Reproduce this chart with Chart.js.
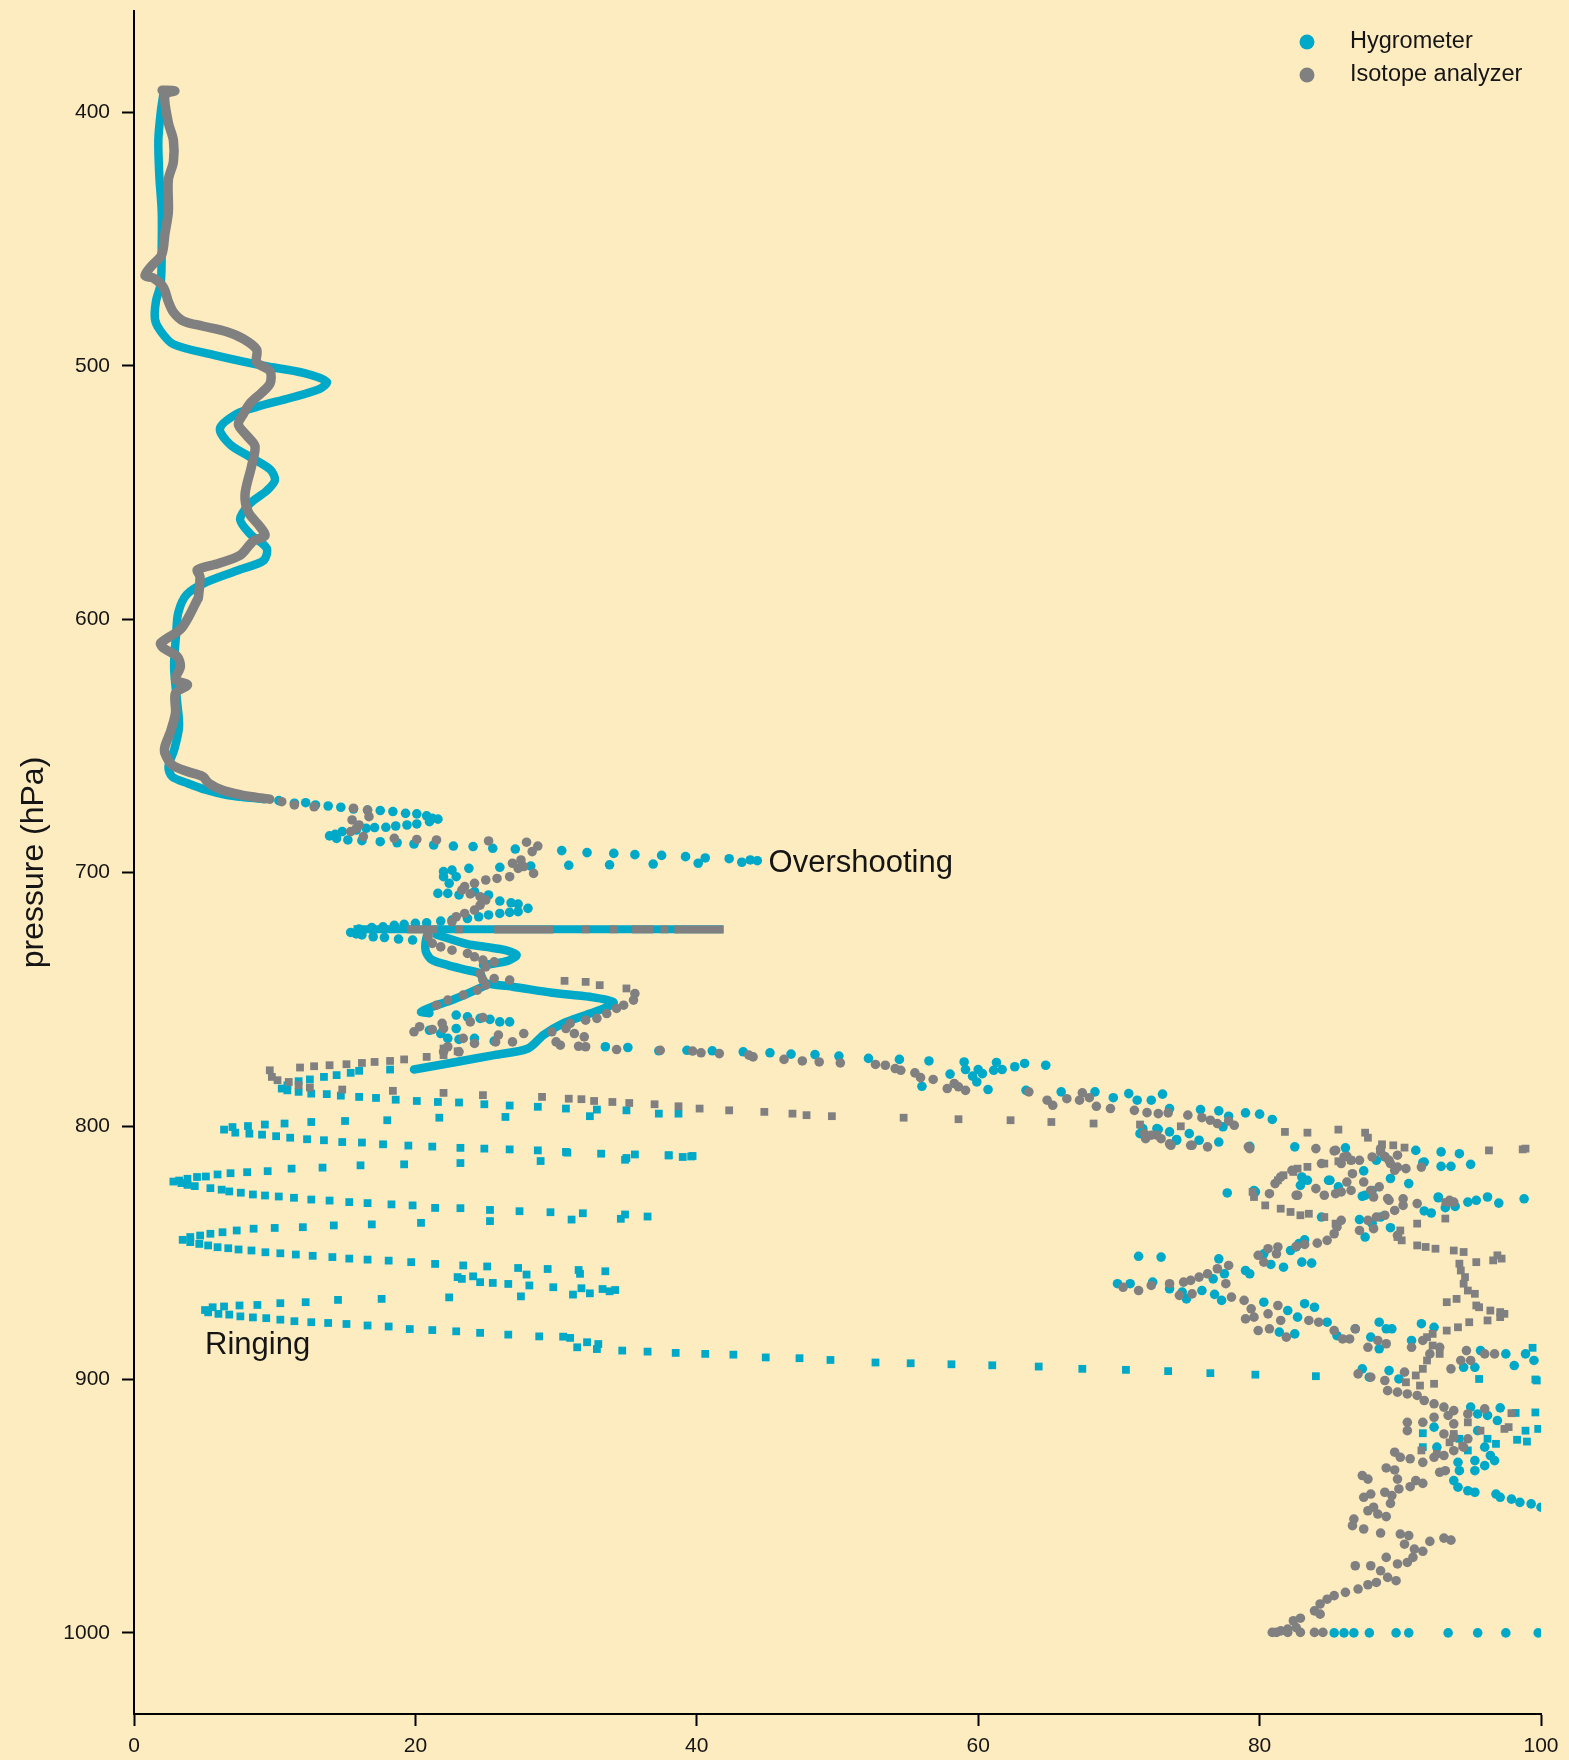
<!DOCTYPE html>
<html>
<head>
<meta charset="utf-8">
<script src="https://cdn.jsdelivr.net/npm/chart.js@4.4.0/dist/chart.umd.min.js"></script>
<style>
  html, body { margin: 0; padding: 0; background: #FEECC1; }
  #wrap { width: 1569px; height: 1760px; }
</style>
</head>
<body>
<div id="wrap"><canvas id="chart" width="1569" height="1760"></canvas></div>
<script>
// Values are [mixing ratio, pressure hPa]
const xTicks = [0, 20, 40, 60, 80, 100];
const yTicks = [400, 500, 600, 700, 800, 900, 1000];

// Hygrometer – dense continuous parts
const hygroTrace = [[2.09,392.7],[1.9,400],[1.73,411],[1.8,425],[1.97,439],[1.97,453],[1.9,467.5],[1.56,474.6],[1.49,481.6],[1.85,486],[2.8,491.5],[5.64,495.7],[9.2,500],[12.04,502.8],[13.7,506.3],[13.2,509.1],[11.09,512.7],[8.72,516.2],[7.3,519],[6.11,524.7],[6.82,531],[8.25,536],[9.67,540.9],[10.02,545.1],[9.43,549.3],[8.25,554.3],[7.54,560.6],[8.25,566.3],[9.43,572],[9.2,576.9],[7.54,580.4],[5.17,585.3],[3.74,590.3],[3.15,597.3],[3.0,605.5],[2.85,618.6],[3.05,631.8],[3.2,642.3],[2.85,651.6],[2.45,658.2],[2.71,662.1],[3.8,664.7],[5.16,667.4],[6.52,669.3],[7.88,670.3],[9.24,671.0]];
const hygroStreak = [[15.6,722.3],[41.9,722.3]];
const hygroLoopA = [[21.0,722.6],[20.8,725.3],[20.7,729.3],[20.8,731.9],[21.2,734.5],[22.3,736.5],[23.7,738.5],[24.6,739.8],[24.8,742.4],[25.0,743.7],[26.9,745.0],[29.7,747.4],[32.4,749.0],[34.1,751.4],[32.4,755.6],[30.5,759.5],[29.1,764.1],[28.0,769.4],[25.6,772.0],[22.9,774.7],[19.9,777.7]];
const hygroLoopB = [[21.5,724.5],[23.7,728.2],[25.0,729.3],[26.4,730.6],[27.2,732.5],[26.7,734.5],[25.9,735.6],[24.8,736.5]];
const hygroLoopC = [[24.8,745.0],[23.7,747.7],[22.6,750.3],[21.2,752.9],[20.4,754.9],[21.0,755.5]];

const hygroCircles = [[10.3,671.6],[11.4,672.6],[12.2,672.4],[12.9,673.3],[13.8,673.7],[14.7,674.2],[15.6,674.9],[16.6,675.3],[17.5,675.5],[18.4,675.9],[19.3,676.6],[20.1,676.8],[20.8,677.6],[21.2,678.6],[21.6,678.9],[21.0,679.9],[20.1,680.8],[19.4,681.2],[18.6,681.6],[17.9,682.1],[17.1,682.2],[16.5,682.5],[15.8,683.2],[14.8,683.8],[14.3,684.9],[13.9,685.5],[14.4,686.5],[15.2,687.1],[16.2,687.4],[17.5,687.8],[18.7,688.2],[19.9,688.7],[21.3,689.1],[22.7,689.5],[24.1,689.7],[25.5,690.4],[27.1,690.7],[30.4,691.3],[32.2,692.1],[34.1,692.4],[35.6,692.9],[37.5,693.2],[39.2,693.7],[40.6,694.2],[42.3,694.5],[43.2,695.9],[43.8,695],[44.3,695.3],[28.2,697.4],[30.9,697.1],[33.8,696.9],[36.9,696.6],[40.1,696.3],
  [22.0,699.6],[22.6,699],[22.0,701.6],[22.9,701.6],[22.4,704.2],[21.6,708.2],[22.3,708.2],[23.1,708.8],[23.8,698.3],[26.0,697.9],[24.2,707.5],[25.2,708.8],[26.0,711.2],[26.8,711.9],[27.3,712.4],[28.0,714.1],[27.3,715.4],[26.7,715.7],[26.0,716.1],[25.2,716.7],[24.5,717.4],[23.7,718.1],[22.6,718.7],[21.8,719.1],[20.8,719.8],[20.0,720.0],[19.2,720.4],[18.5,720.8],[17.7,721.4],[16.9,721.7],[16.0,722.3],[15.4,723.6],[15.8,724.2],[16.2,724.6],[17.0,725.3],[17.8,725.6],[18.8,726.2],[19.8,726.6],
  [22.9,756.2],[23.7,756.9],[24.6,757.5],[25.3,757.9],[26.0,758.9],[26.7,758.9],[21.0,762.2],[21.8,763.5],[22.9,761.5],[22.3,765.4],[23.1,765.8],[24.2,765.4],[25.6,766.5],[33.5,768.7],[35.1,769],[37.3,770.3],[39.3,770.1],[41.1,770.3],
  [43.3,770.7],[45.2,771.1],[46.7,771.6],[48.4,771.8],[50.1,772.4],[52.2,773.3],[54.4,773.7],[56.5,774.3],[59.0,774.7],[61.3,774.9],[63.3,775.3],[64.8,776],[59.1,777.7],[60.0,777.7],[60.3,779.3],[61.1,778],[61.7,777.7],[62.6,776.6],[58.0,779.5],[59.6,780.3],[59.9,782.6],[56.0,784.3],[60.7,785.6],[63.4,785.9],[65.9,786.5],[68.3,786.5],[69.6,788.8],[70.7,787.2],[71.3,789.8],[72.3,789.8],[73.1,787.4],[73.6,793.1],[75.8,793.5],[77.1,794.0],[77.8,796.1],[79.0,794.8],[80.0,795.3],[80.9,797.4],[77.4,800.3],[71.7,801],[72.8,801.3],[73.6,802.3],[74.1,805.6],[75.7,805.6],[77.1,806.3],[79.3,808],[82.5,808.2],[86.1,808.6],[88.3,813.5],[91.1,809.6],[92.9,810.2],[94.2,810.9],[95.0,815.1],[91.6,814.4],[92.9,815.9],[93.6,815.9],[77.7,826.4],[79.7,826],[83.0,820.1],[85.0,821.4],[90.6,822.7],[87.5,827.3],[92.7,828],[96.2,828],[98.8,828.7],
  [71.5,803],[72.7,801],[74.1,805.3],[75.0,803],[88.9,812.2],[91.7,814.2],[87.4,817.7],[89.3,820.7],[84.9,821.4],[82.9,823.4],[83.4,821.4],[85.6,824.0],[87.3,827.7],[88.0,825.4],[79.6,825.4],[84.4,835.9],[88.0,838.5],[88.6,835.9],[89.3,840.1],[87.1,836.9],[87.5,843.8],[92.7,828.3],[91.7,833.5],[92.2,834.3],[93.2,832.2],[93.9,831.7],[94.8,830],[95.4,829.3],[97.0,830.4],[82.2,849.1],[82.8,846.4],[83.2,844.9],[82.6,847.7],[80.3,850.4],[80.8,854.6],[81.7,855.7],[83.0,853.7],[83.7,854.1],[79.0,857],[79.3,858.3],[77.1,852.4],[77.5,858.3],[76.7,860.3],[75.9,864.9],[76.8,866.4],[77.3,868.8],[73.6,864.2],[74.5,865.5],[74.8,868.2],[72.4,861.6],[70.8,862.2],[69.9,862.2],[71.4,851.4],[73.0,851.7],[80.3,869.5],[82.0,872.8],[82.7,875.4],[83.2,870.1],[83.9,871.5],[81.4,881.3],[82.5,882],[84.8,877.4],[85.5,882.7],[86.8,880],[87.9,883.3],[88.5,877.4],[88.5,887.9],[89.0,880],[89.4,880],[90.8,884.6],[91.5,878.0],[92.4,879.4],[95.7,888.6],[97.5,889.9],[98.1,894.5],[98.9,889.9],[99.5,892.5],[94.5,895.2],[95.3,895.2],[87.3,895.8],[89.2,896.5],[89.9,899.8],[87.8,899.1],
  [95.0,910.9],[97.1,911.2],[95.5,913.6],[96.2,914.2],[96.9,916.2],[95.5,920.2],[96.0,926.7],[96.4,930],[96.7,932],[94.1,932.7],[94.2,936],[93.8,939.9],[94.1,942.5],[94.8,943.9],[95.3,944.5],[96.8,945.2],[97.1,946.5],[97.9,947.2],[98.5,948.5],[99.3,949.1],[100,950.4],[92.4,918.8],[92.6,926.7],[96.0,934],[95.3,936],[95.3,932],
  [85.3,1000],[86.0,1000],[86.7,1000],[87.8,1000],[89.7,1000],[90.6,1000],[93.4,1000],[95.5,1000],[97.5,1000],[99.8,1000]];

const hygroSquares = [[18.2,777.7],[16.0,778.2],[15.4,779],[14.4,779.9],[13.5,780.6],[12.5,781.6],[11.7,782.3],[10.9,783.9],[10.5,785.2],[10.9,785.9],[11.7,786.5],[12.6,787.2],[13.7,787.4],[14.7,788],[16.0,788.5],[17.2,788.9],[18.6,789.6],[20.1,790.1],[21.6,790.5],[23.1,790.7],[24.9,791.4],[26.7,791.9],[28.7,792.4],[30.7,793.1],[32.9,793.5],[35.0,793.8],[37.3,795.1],[38.7,795.1],[32.4,796.1],[26.4,796.4],[21.7,796.7],[18.0,797.7],[15.0,798],[12.6,798.4],[10.7,799.0],[9.3,799.4],[8.1,800],[7.0,800.4],[6.4,801.4],[7.2,802.6],[8.2,803],[9.1,803.4],[10.1,804.0],[11.1,804.6],[12.3,805.2],[13.5,805.6],[14.8,806.3],[16.2,806.5],[17.7,807.2],[19.5,807.7],[21.2,808.1],[23.2,808.6],[24.9,808.9],[26.7,809.2],[28.7,809.6],[30.7,810.2],[33.2,810.9],[35.0,812.6],[35.6,811.2],[38.0,811.5],[39.0,812.2],[39.7,811.8],
  [39.6,812],[38.0,811.6],[34.9,813.3],[30.8,810.5],[28.9,813.8],[23.2,814.6],[19.2,815.1],[16.1,815.5],[13.4,816.4],[11.2,816.8],[9.5,817.8],[8.04,818.2],[6.86,818.6],[5.94,819.1],[5.11,819.9],[4.48,820.1],[3.8,820.8],[3.21,821.5],[2.8,821.9],[3.37,822.5],[3.8,823.2],[4.32,823.7],[5.43,824.5],[6.23,825.1],[6.77,825.8],[7.59,826.3],[8.45,827],[9.31,827.4],[10.29,827.8],[11.37,828.3],[12.6,829],[13.9,829.4],[15.3,830],[16.6,830.4],[18.3,830.9],[19.8,831.3],[21.4,832.3],[23.2,832.4],[25.3,833.1],[27.4,833.6],[29.6,834],[31.9,834.4],[34.6,836.6],[34.9,834.9],[36.5,835.7],[31.1,836.9],[25.3,837.5],[20.4,838.2],[16.9,838.8],[14.2,839.2],[12.0,839.9],[10.0,840.2],[8.5,840.5],[7.3,841.2],[6.29,841.9],[5.43,842.5],[4.7,843.2],[4.0,843.8],[3.46,844.9],[4.0,845.8],[4.64,846.5],[5.27,847.1],[5.94,847.8],[6.7,848.2],[7.43,848.7],[8.35,849.1],[9.34,849.8],[10.4,850.2],[11.5,850.7],[12.7,851.2],[14.1,851.7],[15.3,852.3],[16.6,852.7],[18.1,853.1],[19.7,853.7],[21.4,854.4],[23.4,855],[25.1,855.4],[27.3,856],[29.4,856.4],[31.6,856.8],[33.5,857.3],[31.7,858.3],[27.9,858.6],[24.1,859.3],[23.0,859.6],[23.3,860.3],[24.6,861.6],[25.5,861.9],[26.6,862.3],[28.1,862.9],[29.8,863.6],[31.2,866.5],[31.8,864],[32.4,866],[33.3,864.3],[34.2,864.7],[33.8,865.2],[27.5,867.2],[22.4,867.6],[17.6,868.2],[14.5,868.6],[12.2,869.5],[10.4,869.9],[8.77,870.6],[7.5,870.8],[6.4,871.2],[5.59,871.5],[5.05,872.6],[5.27,873.5],[6.0,874.1],[6.77,874.4],[7.56,875.1],[8.45,875.5],[9.4,875.8],[10.4,876.4],[11.4,877],[12.6,877.4],[13.8,877.7],[15.1,878.1],[16.6,878.7],[18.1,879.1],[19.6,880.1],[21.2,880.5],[22.9,881],[24.6,881.6],[26.6,882.3],[28.8,883],[30.5,883.1],[31.0,883.6],[31.5,887.3],[32.2,885.3],[33.0,886],[32.9,888],[34.7,888.6],[36.5,889],[38.5,889.5],[40.6,889.9],[42.6,890.2],[44.9,891.3],[47.3,891.6],[49.5,892.3],[52.7,893.3],[55.2,893.6],[58.1,894],[61,894.4],[64.3,894.9],[67.4,895.8],[70.5,896.2],[73.5,896.7],[76.5,897.5],[79.7,898.1],[84.0,898.7],[95.6,899.8],[99.7,900.4],
  [98.2,913.2],[99.6,913],[98.9,920.2],[99.8,919.5],[98.3,923.8],[99.0,924.5],[91.6,921.2],[91.6,926.7],[96.2,923.4],[96.8,925.4],[94.8,928],[94.2,923.4],[99.4,887.5],[99.6,900]];

// Isotope analyzer
const isoTrace = [[2.0,391.3],[2.9,391.5],[2.2,393],[2.44,404],[2.8,411],[2.8,419.5],[2.44,426.6],[2.44,439.3],[2.2,447.8],[1.97,456.2],[1.26,460.5],[0.78,464.4],[1.37,465.4],[2.09,469],[2.44,474.6],[2.8,478.8],[3.5,482.3],[4.93,484.4],[6.59,486.6],[7.77,489.4],[8.72,493.6],[8.72,498.6],[9.67,502.1],[9.67,507],[9.08,510.6],[8.25,514.8],[7.77,519],[7.42,523.2],[8.01,527.5],[8.6,531.7],[8.36,539.5],[7.89,550.8],[8.13,557.8],[8.96,563.5],[9.31,567],[8.48,569.1],[7.54,574.8],[6.0,578],[4.5,580.5],[4.69,583.2],[4.57,591.7],[4.5,592.3],[3.9,598.9],[3.3,604],[1.9,609.4],[2.1,611.4],[3.07,614.7],[3.3,618.6],[2.95,623.9],[3.8,625.9],[2.95,629.2],[2.95,637],[2.6,644.3],[2.2,650.2],[2.2,652.9],[2.71,657.5],[3.8,660.1],[4.9,662.1],[5.3,664.7],[6.25,667.4],[7.6,669.3],[8.7,670.3],[9.65,671.0]];
// grey runs lying on the 722 hPa streak: [start x, end x]
const isoStreakRuns = [[19.4,21.6],[25.6,29.8],[35.4,36.9],[38.4,41.9]];

const isoCircles = [[10.5,672],[11.4,673.3],[12.8,674],[15.6,674.6],[16.6,675.3],[16.7,677.9],[15.5,679.2],[16.0,681.2],[15.8,682.5],[15.4,683.8],[16.3,685.8],[18.5,686.5],[20.1,686.9],[21.5,687.1],[25.2,687.5],[27.9,688.0],[28.7,689.5],[28.3,691.7],[27.5,695],[26.9,696.3],[27.7,697.6],[27.3,698.3],[28.4,700.3],[26.7,701.6],[25.8,702.3],[25.0,702.9],[24.2,704.2],[23.5,705.5],[23.3,706.9],[23.9,708.4],[24.6,709.5],[25.0,710.8],[24.6,712.8],[24.2,714.8],[23.5,716.1],[22.9,717.4],[22.6,719.4],[20.9,725.3],[21.2,727.9],[21.8,729.3],[22.6,730.6],[23.7,731.9],[24.2,733.2],[24.8,734.5],[25.6,735.2],[25.0,737.2],[24.6,739.8],[24.8,742.4],[25.6,741.8],[26.7,742.4],
  [21.5,752.3],[22.3,750.3],[23.4,748.3],[24.4,746.4],[25.0,744.4],[35.6,747.7],[35.5,750.3],[34.8,752.3],[34.3,753.6],[33.6,755.6],[32.9,757.5],[32.1,758.2],[31.0,759.5],[30.7,761.5],[31.3,763.5],[32.0,764.8],[29.7,762.8],[30.0,766.8],[30.3,768.1],[31.6,768.5],[32.1,768.7],[34.3,769.8],[37.4,770.1],[39.7,770.4],[40.3,771.1],[41.6,771.4],[21.9,759.5],[23.9,758.9],[24.8,757.2],[19.9,762.8],[20.3,760.8],[21.2,761.9],[22.0,761.5],[23.4,765.4],[25.9,764.1],[25.7,766.8],[26.9,766.8],[27.7,763.5],[22.0,770.7],[22.3,768.7],[23.1,770.7],[24.2,767.4],
  [43.7,772.0],[44.0,772.7],[46.2,773.7],[47.5,774.3],[48.7,774.7],[50.2,775.1],[52.7,775.7],[53.4,776],[54.1,777.3],[54.5,778],[55.5,779],[55.9,780.9],[56.8,781.6],[57.8,785.2],[58.3,783.2],[58.6,784.5],[59.1,785.9],[63.6,786.5],[64.9,789.8],[65.3,791.8],[66.3,789.2],[67.2,789.8],[67.4,786.9],[67.9,788.8],[68.4,792.2],[69.4,793.1],[71.1,793.8],[72.0,794.7],[72.8,795.1],[73.5,794.8],[74.9,795.7],[75.9,796.7],[76.5,797.7],[77.0,799.0],[77.8,798],[78.2,799.7],[71.8,803],[72.7,803.6],[73.6,807],[75.2,807.6],[76.3,808.2],[79.2,808.2],[84.0,808.9],[85.4,809.6],[86.2,811.9],[87.1,813.5],[88.0,812.2],[88.6,810.2],[89.2,813.5],[89.8,816.2],[90.4,816.8],[91.5,816.2],[82.3,817.5],[81.5,820.1],[81.1,822.7],[80.7,826.7],[82.7,827.3],[84.0,824.7],[85.4,826.7],[86.5,825.4],[88.1,828],[89.2,829.3],[90.2,828.7],[93.5,829.3],
  [71.9,805],[72.3,803.6],[73.0,805],[73.7,807.6],[75.1,807.6],[79.3,808.9],[85.3,809.8],[86.0,812.2],[86.5,813.5],[85.8,814.8],[84.4,814.8],[86.6,818.8],[86.2,822.1],[85.8,826],[84.6,827.3],[82.6,827.3],[87.4,822.1],[87.9,825.4],[88.5,824.0],[88.9,812],[88.6,808.9],[89.3,814.8],[89.8,811.5],[89.6,817.5],[89.1,828.6],[90.2,831.3],[91.2,830.6],[93.4,830],[93.8,830],[89.6,833.3],[88.9,835.2],[88.3,835.9],[87.7,837.2],[87.1,841.2],[88.1,840.5],[89.8,843.1],[85.8,837.2],[85.5,839.8],[85.3,842.5],[84.8,845.1],[84.1,846.2],[83.2,846.7],[82.6,847.5],[81.3,847.7],[80.6,848.4],[79.9,851],[80.3,853.7],[81.2,850.4],[77.8,855],[77.0,856.3],[76.3,858.3],[75.7,859.6],[75.1,860.9],[74.6,861.6],[73.6,862.2],[72.3,862.9],[71.4,864.9],[70.3,863.6],[75.2,866.2],[74.3,866.8],[77.6,862.2],[78.0,867.5],[78.9,868.8],[79.4,872.1],[79.0,876.1],[79.6,875.4],[80.6,874.1],[81.3,870.8],[81.5,876.7],[79.9,880.7],[80.7,880],[81.9,883.3],[83.5,876.7],[84.2,877.4],[85.3,880.7],[85.9,884],[86.4,884],[86.8,880],[87.7,887.3],[88.4,884.6],[89.0,885.9],[90.8,887.3],[91.6,884.6],[92.1,889.9],[92.8,887.3],[93.6,895.8],[94.7,888.6],[94.3,892.5],[95.0,892.5],[96.0,889.9],[96.7,889.9],[87.0,897.8],[87.9,899.1],[88.9,900.4],[90.3,897.1],
  [89.1,904.4],[89.8,905],[90.5,905.7],[91.2,906.3],[91.7,908.3],[92.4,909.6],[93.1,910.9],[93.8,912.3],[94.8,913.6],[96.0,911.6],[92.4,914.9],[93.4,914.2],[93.8,917.5],[93.1,921.5],[93.8,922.8],[94.8,923.4],[90.5,916.9],[91.6,916.9],[90.5,920.2],[89.6,928.7],[90.0,930.7],[90.7,931.3],[91.6,932.7],[92.4,930.7],[93.1,930],[93.8,928.1],[94.5,926.7],[89.0,934.9],[89.6,935.7],[87.3,937.9],[87.7,939.3],[89.8,939.3],[89.9,943.2],[90.7,942.3],[91.1,939.9],[91.6,941],[92.8,936.6],[93.2,936],[87.4,946.5],[87.9,945.2],[88.9,944.5],[89.4,945.8],[89.3,948.9],[87.7,951.8],[88.1,950.4],[88.4,953.1],[89.0,954.1],[86.7,955.1],[86.6,957.7],[87.4,959],[88.6,960.6],[90.0,961],[90.6,961.6],[90.3,965],[91.0,966.9],[91.6,967.8],[92.1,963.9],[93.1,962.6],[93.6,963.4],[90.9,970.2],[90.5,972.2],[89.8,972.8],[89.0,970.2],[87.9,973.5],[86.8,973.5],[88.6,975.5],[89.1,978.1],[89.7,979.4],[88.3,980.1],[87.7,981],[87.0,982.7],[86.1,984.0],[85.3,985.3],[84.8,986.7],[84.3,988.6],[83.9,991.3],[84.3,992.6],[82.9,994.2],[82.4,995.2],[82.0,998.5],[81.5,999.2],[80.9,999.8],[81.2,999.8],[82.0,999.8],[82.9,999.8],[83.9,999.8],[84.5,999.8],[82.6,997.9]];

const isoSquares = [[23.1,722.4],[32.1,722.4],[34.1,722.4],[37.7,722.4],
  [30.6,742.7],[32.1,743.1],[33.1,744.4],[35.0,745.7],
  [9.65,778],[9.8,780.6],[10.2,781.9],[11.0,782.6],[11.7,783.9],[12.5,784.8],[11.8,776.9],[12.8,776.4],[13.9,776],[15.1,775.6],[16.2,775.1],[17.1,774.7],[18.2,774.3],[19.2,773.7],[20.8,772.7],[22.0,772.0],[22.0,769.4],[23.0,770.5],[14.8,785.6],[18.4,786.1],[22.0,786.9],[24.8,787.8],[29.0,788.5],[30.9,789.2],[31.8,789.4],[32.7,790.1],[34.0,790.5],[35.2,790.9],[37.0,791.4],[38.7,792.2],[40.2,793.1],[42.3,793.8],[44.8,794.4],[46.8,795.1],[47.8,795.7],[49.6,796.1],[54.7,796.7],[58.6,797.3],[62.3,797.7],[65.2,798.4],[68.2,799.0],[71.5,799.4],[74.4,800.1],[81.8,802.3],[83.4,802.6],[85.6,801.4],[87.5,802.6],[87.7,804.6],[88.7,807.2],[89.5,807.6],[90.3,808.5],[96.3,809.6],[98.7,809.2],[98.9,808.9],
  [84.6,814.8],[85.6,813.9],[86.5,813.5],[82.4,818.1],[81.7,819.4],[81.3,821.4],[82.7,816.8],[83.4,816.1],[79.6,828],[79.5,826],[80.4,831.3],[81.5,832.6],[82.2,833.9],[82.9,835.2],[83.5,834.6],[84.6,835.9],[85.4,838.5],[91.2,838.5],[90.0,841.2],[89.8,843.8],[90.1,845.1],[91.2,847.1],[91.8,847.7],[92.5,848.4],[93.8,849.1],[94.5,849.7],[95.4,853.7],[96.6,853],[96.9,851],[97.2,852.3],[94.2,854.3],[94.3,857],[94.6,859.6],[94.5,862.2],[94.8,864.9],[95.3,866.2],[93.3,869.5],[94.0,868.2],[95.4,870.8],[95.6,871.5],[96.4,872.8],[97.1,873.4],[97.4,874.1],[97.1,875.4],[96.2,876.7],[94.9,877.4],[94.1,879.4],[93.3,880.7],[92.3,882],[91.9,883.3],[92.3,886.6],[92.8,889.9],[91.9,892.5],[91.6,895.8],[91.1,898.4],[90.4,901.1],[91.4,902.4],[92.4,901.7],[93.2,836.5],[93.2,830],
  [94.8,916.9],[95.7,920.2],[97.4,919.5],[97.7,918.8],[97.9,913.3],[93.8,921.5],[93.5,924.8],[94.4,926.1],[91.5,928],[92.6,929.4]];

// text labels on the plot: [text, x value, pressure]
const notes = [['Overshooting', 45.1, 696.3], ['Ringing', 5.05, 886.6]];

const BLUE = '#00A9C8';
const GREY = '#808080';
const INK = '#151515';
const FONT = '"Liberation Sans", Arial, Helvetica, sans-serif';

const pts = arr => arr.map(([x, p]) => ({ x, y: p }));

function lineSet(data, color, order, width = 8.5, cap = 'round') {
  return {
    data: pts(data), showLine: true, borderColor: color, borderWidth: width,
    pointRadius: 0, tension: 0.3, borderCapStyle: cap, borderJoinStyle: 'round',
    fill: false, order
  };
}
function dotSet(label, data, color, style, r, order) {
  return {
    label, data: pts(data), pointStyle: style, pointRadius: r,
    backgroundColor: color, borderWidth: 0, order
  };
}

// legend + text notes drawn on top
const overlay = {
  id: 'overlay',
  afterDraw(chart) {
    const { ctx, chartArea, scales } = chart;
    ctx.save();
    ctx.fillStyle = INK;
    ctx.font = '31px ' + FONT;
    ctx.textBaseline = 'middle';
    ctx.textAlign = 'left';
    notes.forEach(([t, x, p]) => {
      ctx.fillText(t, scales.x.getPixelForValue(x), scales.y.getPixelForValue(p));
    });
    const items = [['Hygrometer', BLUE], ['Isotope analyzer', GREY]];
    const mx = chartArea.right - 234;
    ctx.font = '23.5px ' + FONT;
    items.forEach(([t, c], i) => {
      const y = chartArea.top + 31 + i * 33;
      ctx.fillStyle = c;
      ctx.beginPath();
      ctx.arc(mx, y, 7.5, 0, Math.PI * 2);
      ctx.fill();
      ctx.fillStyle = INK;
      ctx.fillText(t, mx + 43, y);
    });
    ctx.restore();
  }
};

const axisLine = { display: true, color: '#000', width: 2 };
const axisGrid = { drawOnChartArea: false, drawTicks: true, tickLength: 12, tickWidth: 2, tickColor: '#000' };

new Chart(document.getElementById('chart'), {
  type: 'scatter',
  data: {
    datasets: [
      lineSet(isoTrace, GREY, 1, 9.5),
      ...isoStreakRuns.map(([a, b]) => lineSet([[a, 722.4], [b, 722.4]], GREY, 1, 8, 'butt')),
      dotSet('Isotope analyzer', isoCircles, GREY, 'circle', 4.8, 1),
      dotSet('Isotope analyzer sq', isoSquares, GREY, 'rect', 5.5, 1),
      lineSet(hygroTrace, BLUE, 2),
      lineSet(hygroStreak, BLUE, 2, 8, 'butt'),
      lineSet(hygroLoopA, BLUE, 2),
      lineSet(hygroLoopB, BLUE, 2),
      lineSet(hygroLoopC, BLUE, 2),
      dotSet('Hygrometer', hygroCircles, BLUE, 'circle', 4.8, 2),
      dotSet('Hygrometer sq', hygroSquares, BLUE, 'rect', 5.5, 2)
    ]
  },
  options: {
    responsive: false,
    animation: false,
    events: [],
    layout: { padding: { top: 11, right: 28, left: 0, bottom: 0 } },
    plugins: { legend: { display: false }, tooltip: { enabled: false } },
    scales: {
      x: {
        type: 'linear', min: 0, max: 100,
        afterBuildTicks: s => { s.ticks = xTicks.map(v => ({ value: v })); },
        afterFit: s => { s.height = 46; s.paddingLeft = 0; s.paddingRight = 0; },
        border: axisLine,
        grid: axisGrid,
        ticks: { color: INK, font: { family: FONT, size: 21 }, padding: 8, maxRotation: 0, callback: v => String(v) }
      },
      y: {
        type: 'linear', min: 360, max: 1032, reverse: true,
        afterBuildTicks: s => { s.ticks = yTicks.map(v => ({ value: v })); },
        afterFit: s => { s.width = 134; s.paddingTop = 0; s.paddingBottom = 0; },
        border: axisLine,
        grid: axisGrid,
        ticks: { color: INK, font: { family: FONT, size: 21 }, padding: 12, callback: v => String(v) },
        title: {
          display: true, text: 'pressure (hPa)', color: INK,
          font: { family: FONT, size: 32 }, padding: { top: 15, bottom: 0 }
        }
      }
    }
  },
  plugins: [overlay]
});
</script>
</body>
</html>
